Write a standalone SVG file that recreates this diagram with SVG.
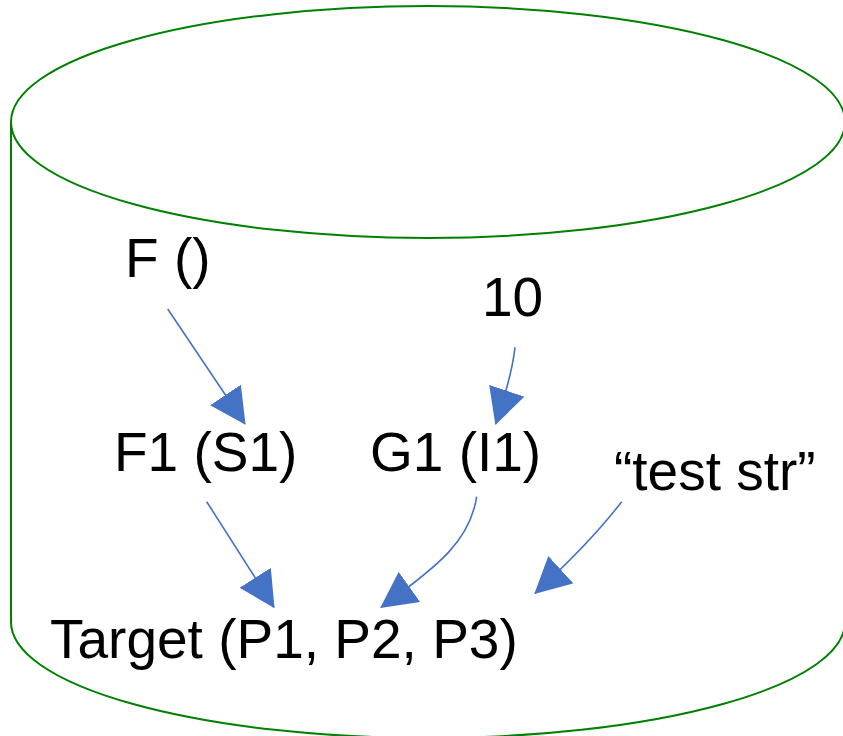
<svg xmlns="http://www.w3.org/2000/svg" width="843" height="736" viewBox="0 0 843 736">
  <style>
    .cyl { fill: none; stroke: #008000; stroke-width: 2; }
    .lbl { font-family: "Liberation Sans", Arial, sans-serif; font-size: 55px; fill: #000000; }
    .conn { fill: none; stroke: #4472C4; stroke-width: 1.6; marker-end: url(#ah); }
  </style>
  <defs>
    <marker id="ah" markerUnits="userSpaceOnUse" viewBox="0 0 36 37" markerWidth="36" markerHeight="37" refX="35" refY="18.5" orient="auto">
      <path d="M0,0 L36,18.5 L0,37 Z" fill="#4472C4"/>
    </marker>
  </defs>
  <rect width="843" height="736" fill="#ffffff"/>
  <g id="cylinder">
    <ellipse class="cyl" cx="428" cy="122" rx="417" ry="116"/>
    <path class="cyl" d="M11,122 V622 A417,116 0 0 0 845,622 V122"/>
  </g>
  <g id="node-F"><text class="lbl" x="125" y="277">F ()</text></g>
  <g id="node-10"><text class="lbl" x="482" y="316">10</text></g>
  <g id="node-F1"><text class="lbl" x="114" y="471">F1 (S1)</text></g>
  <g id="node-G1"><text class="lbl" x="370" y="471">G1 (I1)</text></g>
  <g id="node-str"><text class="lbl" x="614" y="490">“test str”</text></g>
  <g id="node-target"><text class="lbl" x="50" y="658">Target (P1, P2, P3)</text></g>
  <g id="connectors">
    <path class="conn" d="M167.7,309 L245,424"/>
    <path class="conn" d="M515,347.3 Q512,375 495.7,424"/>
    <path class="conn" d="M206.7,501.7 L274,607.3"/>
    <path class="conn" d="M476.7,496.7 C470,540 440,565 381,607.3"/>
    <path class="conn" d="M621.7,501.7 Q590,543 535,593.3"/>
  </g>
</svg>
